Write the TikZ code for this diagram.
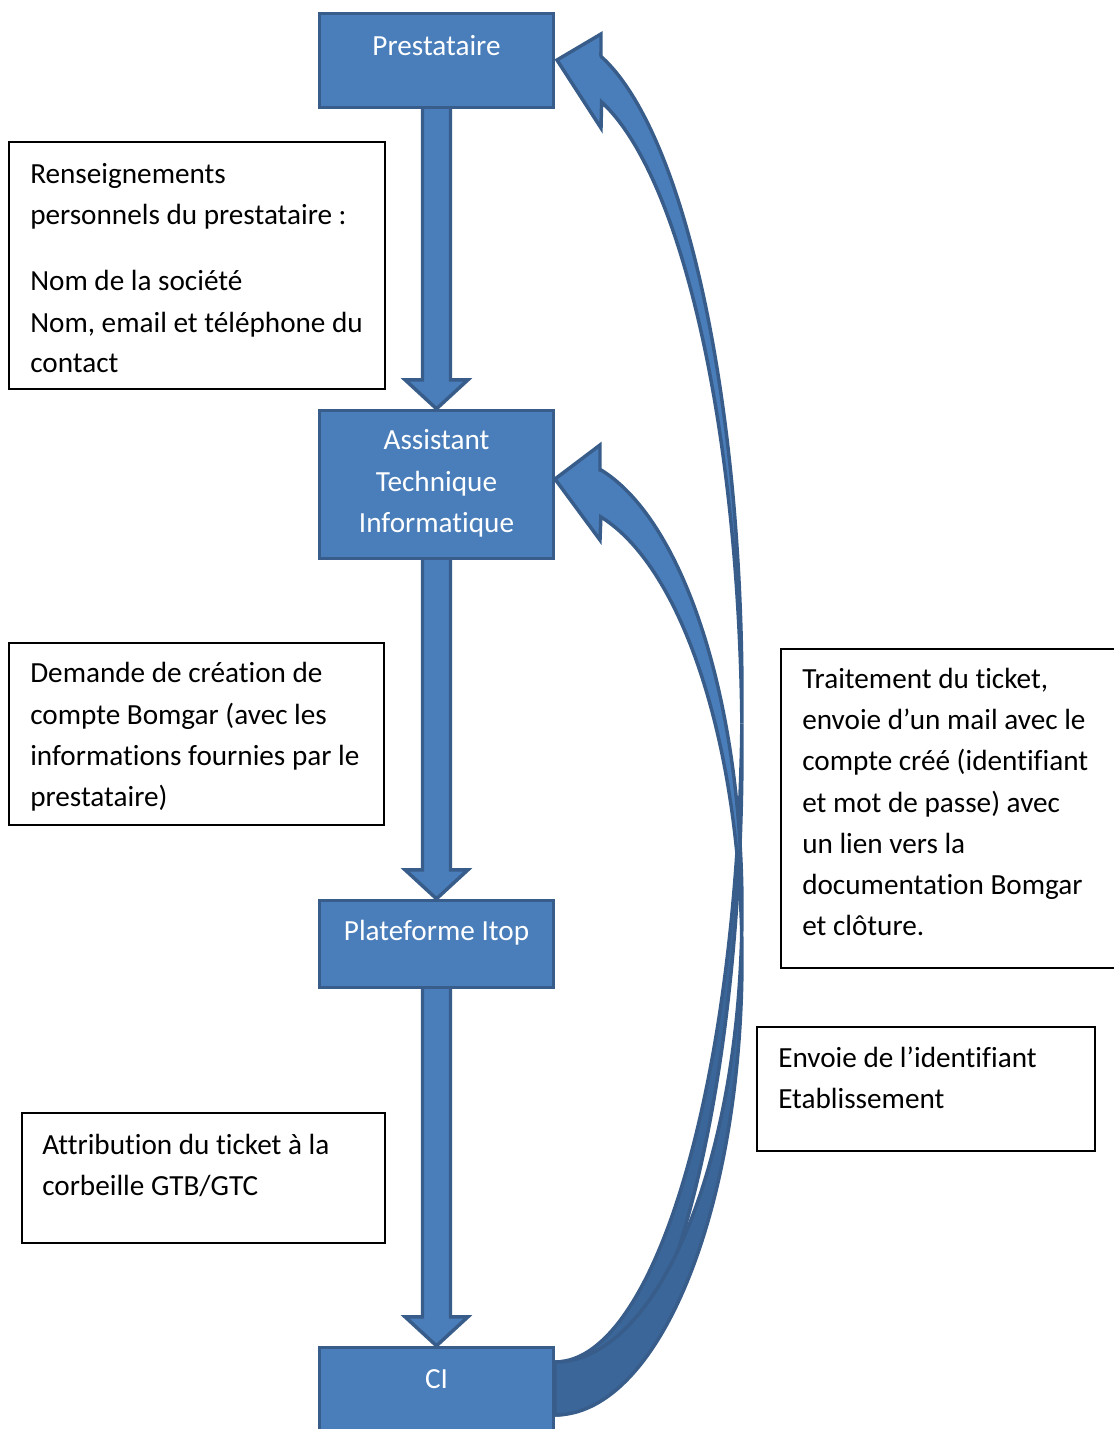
\documentclass[tikz,border=0pt]{standalone}
\usepackage{fontspec}
\setmainfont{Carlito}[Ligatures=NoCommon]
\usetikzlibrary{calc,backgrounds}
\definecolor{bfill}{HTML}{4A7EBB}
\definecolor{bline}{HTML}{385D8A}
\definecolor{bdark}{HTML}{3A6699}
\newcommand\myfs{\fontsize{21.9pt}{26pt}\selectfont}
\begin{document}
\begin{tikzpicture}[x=0.75pt,y=-0.75pt,
  bluebox/.style={draw=bline,fill=bfill,line width=2.6pt,minimum width=175.5pt,inner sep=0pt},
  wtxt/.style={text=white,font=\myfs,inner sep=0pt,anchor=base},
  btxt/.style={text=black,font=\myfs,inner sep=0pt,anchor=base west},
  tbox/.style={draw=black,line width=1.2pt,inner sep=0pt},
  blk/.style={draw=bline,fill=bfill,line width=2.6pt,line join=miter},
  blkdark/.style={draw=bline,fill=bdark,line width=2.6pt,line join=miter}]
\useasboundingbox (0,0) rectangle (1114,1429);
\clip (0,0) rectangle (1114,1429);

% main blue boxes
\node[bluebox,minimum height=70.5pt] (prest) at (436.5,60.5) {};
\node[bluebox,minimum height=111pt] (ati) at (436.5,484.5) {};
\node[bluebox,minimum height=65.25pt] (plat) at (436.5,944) {};
\node[bluebox,minimum height=83.25pt] (ci) at (436.5,1403) {};

\node[wtxt] (prestT) at (436.5,55) {Prestataire};
\node[wtxt] (atiT1) at (436.5,449) {Assistant};
\node[wtxt] (atiT2) at (436.5,491) {Technique};
\node[wtxt] (atiT3) at (436.5,532) {Informatique};
\node[wtxt] (platT) at (436.5,940) {Plateforme Itop};
\node[wtxt] (ciT) at (436.5,1388) {CI};

% straight block arrows
\begin{scope}[on background layer]
\foreach \a/\b in {prest/ati,ati/plat,plat/ci}{
  \draw[blk] ($(\a.south)+(-14,-5)$) -- ($(\b.north)+(-14,-29)$) -- ($(\b.north)+(-31.5,-29)$)
    -- (\b.north) -- ($(\b.north)+(31.5,-29)$) -- ($(\b.north)+(14,-29)$) -- ($(\a.south)+(14,-5)$) -- cycle;
}
\end{scope}

% curved arrow CI -> Prestataire
\coordinate (tipA) at (557,60);
\filldraw[blkdark] plot[variable=\t,domain=2.11:90,samples=80] ({555+187*cos(\t)},{699+663*sin(\t)})
  -- plot[variable=\t,domain=90:-2.11,samples=80] ({555+187*cos(\t)},{748+667*sin(\t)}) -- cycle;
\filldraw[blk] (tipA) -- (601,34) -- (601,57)
  -- plot[variable=\t,domain=-75.76:2.11,samples=80] ({555+187*cos(\t)},{699+663*sin(\t)})
  -- plot[variable=\t,domain=-2.11:-75.56,samples=80] ({555+187*cos(\t)},{748+667*sin(\t)})
  -- (601,128) -- cycle;

% curved arrow CI -> Assistant Technique Informatique
\coordinate (tipB) at (555,479);
\filldraw[blkdark] plot[variable=\t,domain=3.15:90,samples=80] ({555+187*cos(\t)},{909+453*sin(\t)})
  -- plot[variable=\t,domain=90:-3.15,samples=80] ({555+187*cos(\t)},{959+456*sin(\t)}) -- cycle;
\filldraw[blk] (tipB) -- (600,445) -- (600,470)
  -- plot[variable=\t,domain=-75.7:3.15,samples=80] ({555+187*cos(\t)},{909+453*sin(\t)})
  -- plot[variable=\t,domain=-3.15:-75.8,samples=80] ({555+187*cos(\t)},{959+456*sin(\t)})
  -- (600,540) -- cycle;

% text boxes
\node[tbox,minimum width=282pt,minimum height=185.25pt] (box1) at (197,265.5) {};
\node[btxt] (b1a) at (30,183) {Renseignements};
\node[btxt] (b1b) at (30,224) {personnels du prestataire :};
\node[btxt] (b1c) at (30,290) {Nom de la société};
\node[btxt] (b1d) at (30,332) {Nom, email et téléphone du};
\node[btxt] (b1e) at (30,372) {contact};

\node[tbox,minimum width=281.25pt,minimum height=136.5pt] (box2) at (196.5,734) {};
\node[btxt] (b2a) at (30,682) {Demande de création de};
\node[btxt] (b2b) at (30,724) {compte Bomgar (avec les};
\node[btxt] (b2c) at (30,765) {informations fournies par le};
\node[btxt] (b2d) at (30,806) {prestataire)};

\node[tbox,minimum width=272.25pt,minimum height=97.5pt] (box3) at (203.5,1178) {};
\node[btxt] (b3a) at (42,1154) {Attribution du ticket à la};
\node[btxt] (b3b) at (42,1195) {corbeille GTB/GTC};

\node[tbox,minimum width=261.75pt,minimum height=239.25pt] (box4) at (955.5,808.5) {};
\node[btxt] (b4a) at (802,688) {Traitement du ticket,};
\node[btxt] (b4b) at (802,729) {envoie d’un mail avec le};
\node[btxt] (b4c) at (802,770) {compte créé (identifiant};
\node[btxt] (b4d) at (802,812) {et mot de passe) avec};
\node[btxt] (b4e) at (802,853) {un lien vers la};
\node[btxt] (b4f) at (802,894) {documentation Bomgar};
\node[btxt] (b4g) at (802,935) {et clôture.};

\node[tbox,minimum width=253.5pt,minimum height=93pt] (box5) at (926,1089) {};
\node[btxt] (b5a) at (778,1067) {Envoie de l’identifiant};
\node[btxt] (b5b) at (778,1108) {Etablissement};
\end{tikzpicture}
\end{document}
